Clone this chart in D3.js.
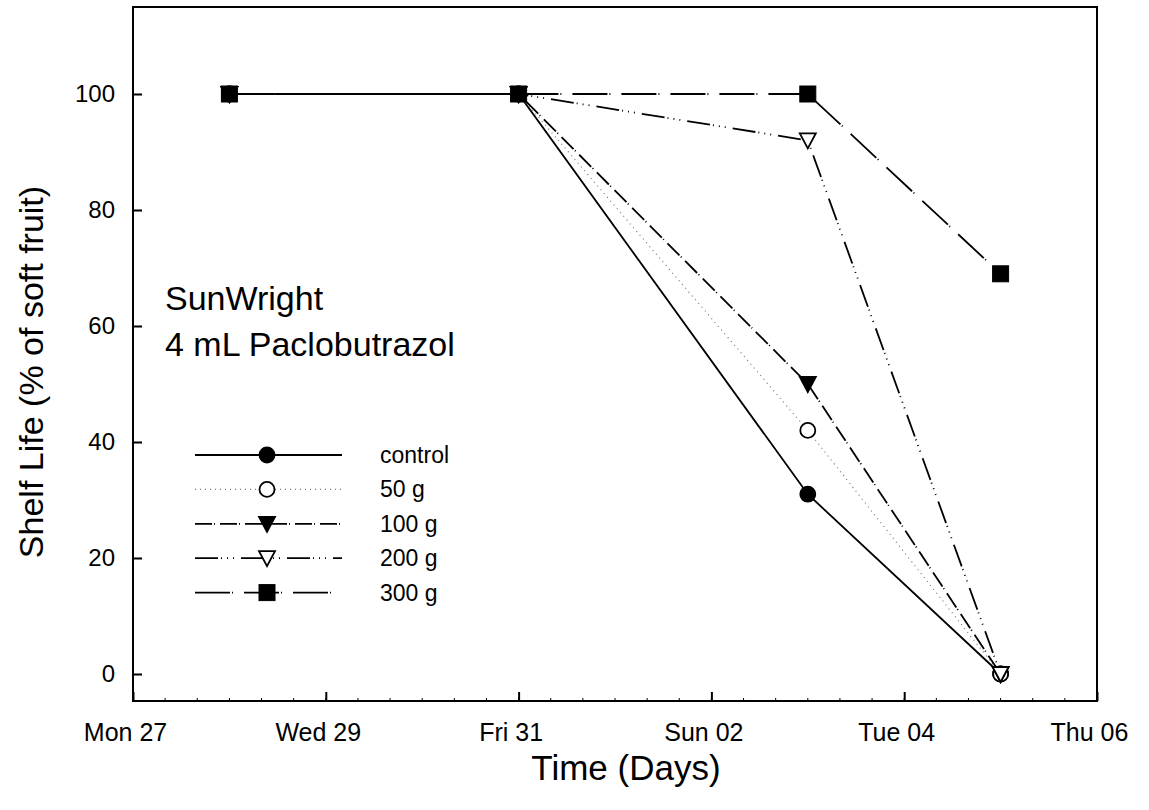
<!DOCTYPE html>
<html>
<head>
<meta charset="utf-8">
<script src="https://cdn.jsdelivr.net/npm/d3@7"></script>
<style>
  html, body { margin: 0; padding: 0; background: #fff; }
  svg { display: block; font-family: Arial, "Liberation Sans", sans-serif; }
</style>
</head>
<body>
<svg id="chart" width="1149" height="810"></svg>
<script>
// ---- data ----
const sampleDates = ["2009-07-28", "2009-07-31", "2009-08-03", "2009-08-05"];
const seriesNames = ["control", "50 g", "100 g", "200 g", "300 g"];
const controlValues = [100, 100, 31, 0];
const g50Values = [100, 100, 42, 0];
const g100Values = [100, 100, 50, 0];
const g200Values = [100, 100, 92, 0];
const g300Values = [100, 100, 100, 69];
const xTickDates = ["2009-07-27", "2009-07-29", "2009-07-31", "2009-08-02", "2009-08-04", "2009-08-06"];
const yTickValues = [0, 20, 40, 60, 80, 100];
const annotationLines = ["SunWright", "4 mL Paclobutrazol"];
const xTitle = "Time (Days)";
const yTitle = "Shelf Life (% of soft fruit)";

const parse = d3.timeParse("%Y-%m-%d");
const dates = sampleDates.map(parse);
const allValues = [controlValues, g50Values, g100Values, g200Values, g300Values];
const series = seriesNames.map((name, i) => ({
  name,
  points: dates.map((d, j) => ({ date: d, value: allValues[i][j] }))
}));

const styles = [
  { dash: null, width: 1.8, color: "#000", marker: "circle", fill: "#000" },
  { dash: "1,4", width: 1.2, color: "#777", marker: "circle", fill: "#fff" },
  { dash: "17,2,1,5", width: 1.8, color: "#000", marker: "triDown", fill: "#000" },
  { dash: "23,3,1,5,1,5,1,7", width: 1.8, color: "#000", marker: "triDown", fill: "#fff" },
  { dash: "35,2,1,11", width: 1.8, color: "#000", marker: "square", fill: "#000" }
];

const svg = d3.select("#chart");
const L = 133, R = 1097, T = 7, B = 701;
const FONT = "Arial, 'Liberation Sans', sans-serif";

const x = d3.scaleTime()
  .domain([parse(xTickDates[0]), parse(xTickDates[xTickDates.length - 1])])
  .range([L, R]);
const y = d3.scaleLinear().domain([0, 100]).range([674, 94]);

// frame
svg.append("rect")
  .attr("x", L).attr("y", T).attr("width", R - L).attr("height", B - T)
  .attr("fill", "none").attr("stroke", "#000").attr("stroke-width", 2);

// x minor ticks (every 8 hours)
const minor = d3.timeHour.every(8).range(x.domain()[0], x.domain()[1]);
svg.append("g").selectAll("line").data(minor).join("line")
  .attr("x1", d => x(d)).attr("x2", d => x(d))
  .attr("y1", B).attr("y2", B - 3)
  .attr("stroke", "#000").attr("stroke-width", 1);

// x axis
const xAxis = d3.axisBottom(x)
  .tickValues(xTickDates.map(parse))
  .tickFormat(d3.timeFormat("%a %d"))
  .tickSizeInner(-9).tickSizeOuter(0);
const gx = svg.append("g").attr("transform", `translate(0,${B})`).call(xAxis);
gx.select(".domain").remove();
gx.selectAll("line").attr("stroke-width", 2);
gx.selectAll("text").attr("font-size", 25).attr("font-family", FONT).attr("fill", "#000")
  .attr("y", 40).attr("dy", 0).attr("x", -8);

// y axis
const yAxis = d3.axisLeft(y)
  .tickValues(yTickValues)
  .tickSizeInner(-9).tickSizeOuter(0).tickPadding(18);
const gy = svg.append("g").attr("transform", `translate(${L},0)`).call(yAxis);
gy.select(".domain").remove();
gy.selectAll("line").attr("stroke-width", 2);
gy.selectAll("text").attr("font-size", 24).attr("font-family", FONT).attr("fill", "#000");

// axis titles
svg.append("text").attr("x", 626).attr("y", 780).attr("text-anchor", "middle")
  .attr("font-size", 35).text(xTitle);
svg.append("text").attr("transform", `translate(43,372) rotate(-90)`)
  .attr("text-anchor", "middle").attr("font-size", 34).text(yTitle);

// annotation
svg.append("g").selectAll("text").data(annotationLines).join("text")
  .attr("x", 165).attr("y", (d, i) => 310 + i * 46)
  .attr("font-size", 34).text(d => d);

function drawMarker(g, type, fill, cx, cy) {
  if (type === "circle") {
    g.append("circle").attr("cx", cx).attr("cy", cy).attr("r", 7.5)
      .attr("fill", fill).attr("stroke", "#000").attr("stroke-width", 1.8);
  } else if (type === "square") {
    g.append("rect").attr("x", cx - 8).attr("y", cy - 8).attr("width", 16).attr("height", 16)
      .attr("fill", fill).attr("stroke", "#000").attr("stroke-width", 1);
  } else if (type === "triDown") {
    g.append("path")
      .attr("d", `M${cx - 8},${cy - 7}L${cx + 8},${cy - 7}L${cx},${cy + 8}Z`)
      .attr("fill", fill).attr("stroke", "#000").attr("stroke-width", 1.8)
      .attr("stroke-linejoin", "miter");
  }
}

const line = d3.line().x(d => x(d.date)).y(d => y(d.value));

series.forEach((s, i) => {
  const st = styles[i];
  svg.append("path").datum(s.points).attr("d", line)
    .attr("fill", "none").attr("stroke", st.color).attr("stroke-width", st.width)
    .attr("stroke-dasharray", st.dash);
});
series.forEach((s, i) => {
  const st = styles[i];
  const g = svg.append("g");
  s.points.forEach(p => drawMarker(g, st.marker, st.fill, x(p.date), y(p.value)));
});

// legend
const legY0 = 455, legStep = 34.4;
series.forEach((s, i) => {
  const st = styles[i];
  const ly = legY0 + i * legStep;
  const g = svg.append("g");
  g.append("line").attr("x1", 195).attr("x2", 342).attr("y1", ly).attr("y2", ly)
    .attr("stroke", st.color).attr("stroke-width", st.width).attr("stroke-dasharray", st.dash);
  drawMarker(g, st.marker, st.fill, 267, ly);
  g.append("text").attr("x", 380).attr("y", ly + 8).attr("font-size", 23).text(s.name);
});
</script>
</body>
</html>
